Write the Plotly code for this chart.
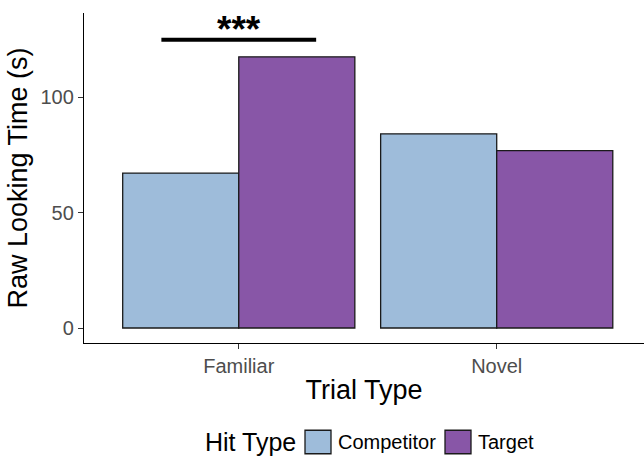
import plotly.graph_objects as go

# Mean raw looking time per trial type and hit type
trial_types = ["Familiar", "Novel"]
hit_types = ["Competitor", "Target"]
competitor_time = [67.2, 84.2]
target_time = [117.6, 76.9]
series_values = [competitor_time, target_time]
series_colors = ["#9EBCDA", "#8856A7"]

# Significance marker over the Familiar pair
sig_label = "***"
sig_line_y = 125
sig_label_y = 130
sig_half_span = 0.3

y_ticks = [0, 50, 100]

FONT = "Liberation Sans, Arial, sans-serif"
W, H = 644, 457
M_L, M_R, M_T, M_B = 84, 0, 13, 114
plot_w = W - M_L - M_R
plot_h = H - M_T - M_B

fig = go.Figure()
for name, vals, col in zip(hit_types, series_values, series_colors):
    fig.add_trace(go.Bar(
        x=trial_types, y=vals, name=name,
        marker=dict(color=col, line=dict(color="#1A1A1A", width=1.3)),
        showlegend=False,
    ))

fig.update_layout(
    width=W, height=H,
    margin=dict(l=M_L, r=M_R, t=M_T, b=M_B),
    paper_bgcolor="white", plot_bgcolor="white",
    barmode="group", bargap=0.1, bargroupgap=0,
    font=dict(family=FONT, color="black"),
)

fig.update_xaxes(
    range=[-0.6, 1.571],
    showline=True, linecolor="black", linewidth=1.4,
    ticks="outside", ticklen=5, tickwidth=1.2, tickcolor="#333333",
    tickfont=dict(size=20, color="#4D4D4D"),
    showgrid=False, zeroline=False,
    title=dict(text="Trial Type", font=dict(size=27, color="black"), standoff=3),
)
fig.update_yaxes(
    range=[-6.5, 136.6],
    tickvals=y_ticks,
    showline=True, linecolor="black", linewidth=1.4,
    ticks="outside", ticklen=5, tickwidth=1.2, tickcolor="#333333",
    tickfont=dict(size=20, color="#4D4D4D"),
    showgrid=False, zeroline=False,
    title=dict(text="Raw Looking Time (s)", font=dict(size=27, color="black"), standoff=4),
)

# Significance bar and stars
fig.add_shape(type="line", xref="x", yref="y",
              x0=-sig_half_span, x1=sig_half_span, y0=sig_line_y, y1=sig_line_y,
              line=dict(color="black", width=4))
fig.add_annotation(x=trial_types[0], y=sig_label_y, xref="x", yref="y",
                   text="<b>" + sig_label + "</b>", showarrow=False, yanchor="middle",
                   yshift=-1,
                   font=dict(size=37, color="black", family=FONT))


# Horizontal legend at the bottom, with large square keys
def px_x(px):
    return (px - M_L) / plot_w


def px_y(py):
    return (H - M_B - py) / plot_h


legend_cy = 442
key_w, key_h = 26, 23.5
fig.add_annotation(xref="paper", yref="paper", x=px_x(298), y=px_y(legend_cy),
                   text="Hit Type", showarrow=False, xanchor="right", yanchor="middle",
                   font=dict(size=25, color="black", family=FONT))
key_left = [305, 445]
for name, col, kx in zip(hit_types, series_colors, key_left):
    fig.add_shape(type="rect", xref="paper", yref="paper",
                  x0=px_x(kx), x1=px_x(kx + key_w),
                  y0=px_y(legend_cy - key_h / 2), y1=px_y(legend_cy + key_h / 2),
                  fillcolor=col, line=dict(color="#1A1A1A", width=1.3))
    fig.add_annotation(xref="paper", yref="paper", x=px_x(kx + key_w + 5), y=px_y(legend_cy),
                       text=name, showarrow=False, xanchor="left", yanchor="middle",
                       font=dict(size=20, color="black", family=FONT))

fig.write_html("out.html")
